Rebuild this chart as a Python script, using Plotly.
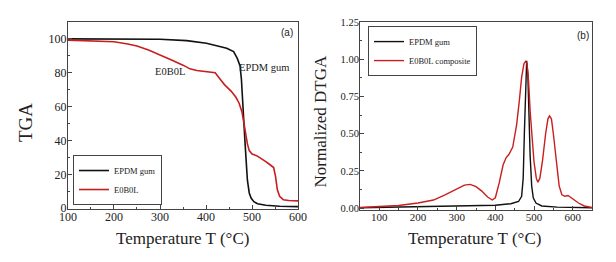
import plotly.graph_objects as go

# ---- Panel (a): TGA ----
tga_gum_T = [100, 200, 300, 358, 401, 445, 460, 468, 474, 477, 480, 483, 485, 488, 490, 494, 498, 504, 512, 530, 560, 600]
tga_gum_v = [100, 100, 99.8, 99.0, 97.4, 94.5, 92.5, 88.5, 84, 76, 64, 50, 38, 25, 16.5, 9, 6, 3.8, 2.6, 1.7, 1.1, 0.9]

tga_e_T = [100, 150, 200, 230, 250, 275, 300, 325, 350, 365, 380, 400, 420, 430, 440, 455, 465, 472, 478, 482, 486, 490, 494, 500, 510, 520, 530, 540, 547, 551, 555, 560, 568, 580, 600]
tga_e_v = [99.3, 99, 98.3, 97, 95.8, 93.5, 90.7, 87.5, 84.5, 82.3, 81.3, 80.8, 80, 76.5, 73, 69, 65.5, 62, 57, 51, 44, 38, 34, 32, 31, 29.5, 27.5, 25.5, 24, 19, 11, 7, 5, 4.5, 4.3]

# ---- Panel (b): normalized DTGA ----
dtg_gum_T = [50, 100, 200, 300, 400, 440, 460, 468, 472, 475, 478, 481, 484, 487, 490, 494, 498, 505, 520, 560, 600, 650]
dtg_gum_v = [0.003, 0.005, 0.01, 0.015, 0.02, 0.03, 0.045, 0.08, 0.2, 0.5, 0.85, 0.99, 0.9, 0.6, 0.35, 0.15, 0.07, 0.035, 0.015, 0.007, 0.004, 0.003]

dtg_e_T = [50, 100, 150, 200, 240, 270, 300, 320, 335, 350, 365, 380, 392, 400, 410, 420, 428, 435, 445, 455, 462, 468, 474, 478, 482, 486, 490, 495, 500, 506, 510, 515, 522, 530, 536, 540, 545, 550, 557, 565, 572, 580, 588, 600, 615, 630, 650]
dtg_e_v = [0.005, 0.01, 0.018, 0.035, 0.055, 0.09, 0.13, 0.155, 0.16, 0.145, 0.115, 0.075, 0.055, 0.07, 0.17, 0.29, 0.34, 0.36, 0.41, 0.56, 0.72, 0.88, 0.97, 0.985, 0.97, 0.85, 0.65, 0.45, 0.31, 0.2, 0.175, 0.2, 0.32, 0.5, 0.6, 0.62, 0.6, 0.5, 0.35, 0.15, 0.09, 0.08, 0.085, 0.06, 0.035, 0.015, 0.005]

tga_xticks = [100, 200, 300, 400, 500, 600]
tga_yticks = [0, 20, 40, 60, 80, 100]
dtg_xticks = [100, 200, 300, 400, 500, 600]
dtg_yticks = [0, 0.25, 0.5, 0.75, 1.0, 1.25]
dtg_yticklabels = ["0.00", "0.25", "0.50", "0.75", "1.00", "1.25"]

BLACK = "#111111"
RED = "#c81e1e"
FONT = "'Liberation Serif', 'Times New Roman', Times, 'DejaVu Serif', serif"
SANS = "'Liberation Sans', Arial, sans-serif"

fig = go.Figure()
fig.add_trace(go.Scatter(x=tga_gum_T, y=tga_gum_v, mode="lines", name="EPDM gum",
                         line=dict(color=BLACK, width=1.6), xaxis="x", yaxis="y", legend="legend"))
fig.add_trace(go.Scatter(x=tga_e_T, y=tga_e_v, mode="lines", name="E0B0L",
                         line=dict(color=RED, width=1.6), xaxis="x", yaxis="y", legend="legend"))
fig.add_trace(go.Scatter(x=dtg_gum_T, y=dtg_gum_v, mode="lines", name="EPDM gum",
                         line=dict(color=BLACK, width=1.4), xaxis="x2", yaxis="y2", legend="legend2"))
fig.add_trace(go.Scatter(x=dtg_e_T, y=dtg_e_v, mode="lines", name="E0B0L composite",
                         line=dict(color=RED, width=1.4), xaxis="x2", yaxis="y2", legend="legend2"))

def axis_common(size, standoff):
    return dict(showline=True, linecolor="#444444", linewidth=1, mirror=True, automargin=False,
                ticks="inside", ticklen=4, tickcolor="#444444", showgrid=False, zeroline=False,
                ticklabelstandoff=standoff,
                tickfont=dict(family=FONT, size=size, color="#222222"))

fig.update_layout(
    template="none",
    width=616, height=262,
    margin=dict(l=0, r=0, t=0, b=0, autoexpand=False),
    paper_bgcolor="white", plot_bgcolor="white",
    font=dict(family=FONT, color="#222222"),
    xaxis=dict(domain=[0.0974, 0.4708], range=[100, 600], tickvals=tga_xticks,
               minor=dict(ticks="inside", ticklen=2, dtick=50, tickcolor="#444444"),
               anchor="y", **axis_common(12, -3)),
    yaxis=dict(domain=[0.2328, 0.9466], range=[-0.5, 110], tickvals=tga_yticks,
               minor=dict(ticks="inside", ticklen=2, dtick=10, tickcolor="#444444"),
               anchor="x", **axis_common(12, -2)),
    xaxis2=dict(domain=[0.5714, 0.9481], range=[50, 650], tickvals=dtg_xticks,
                minor=dict(ticks="inside", ticklen=2, dtick=50, tickcolor="#444444"),
                anchor="y2", **axis_common(11, -3)),
    yaxis2=dict(domain=[0.229, 0.9466], range=[-0.012, 1.25], tickvals=dtg_yticks,
                ticktext=dtg_yticklabels,
                minor=dict(ticks="inside", ticklen=2, dtick=0.125, tickcolor="#444444"),
                anchor="x2", **axis_common(10.5, -2)),
    legend=dict(x=0.1055, y=0.248, xanchor="left", yanchor="bottom",
                bgcolor="white", bordercolor="#444444", borderwidth=1,
                font=dict(family=FONT, size=8.5), tracegroupgap=0, itemwidth=30),
    legend2=dict(x=0.5844, y=0.931, xanchor="left", yanchor="top",
                 bgcolor="white", bordercolor="#444444", borderwidth=1,
                 font=dict(family=FONT, size=8.5), tracegroupgap=0, itemwidth=30),
)

def txt(text, x, y, xref, yref, size, family=FONT, angle=0):
    return dict(text=text, x=x, y=y, xref=xref, yref=yref, showarrow=False,
                xanchor="center", yanchor="middle", textangle=angle,
                font=dict(size=size, family=family, color="#222222"))

ann = [
    txt("(a)", 576, 103.5, "x", "y", 10, SANS),
    txt("E0B0L", 322, 80.5, "x", "y", 10.5),
    txt("EPDM gum", 526, 83.4, "x", "y", 10.5),
    txt("(b)", 627, 1.16, "x2", "y2", 10, SANS),
    txt("Temperature T (°C)", 0.2825, 0.1221, "paper", "paper", 17),
    txt("Temperature T (°C)", 0.7581, 0.1221, "paper", "paper", 17),
    txt("TGA", 0.0276, 0.561, "paper", "paper", 19, angle=-90),
    txt("Normalized DTGA", 0.5081, 0.5668, "paper", "paper", 17, angle=-90),
]
fig.update_layout(annotations=ann)

fig.write_html("out.html")
